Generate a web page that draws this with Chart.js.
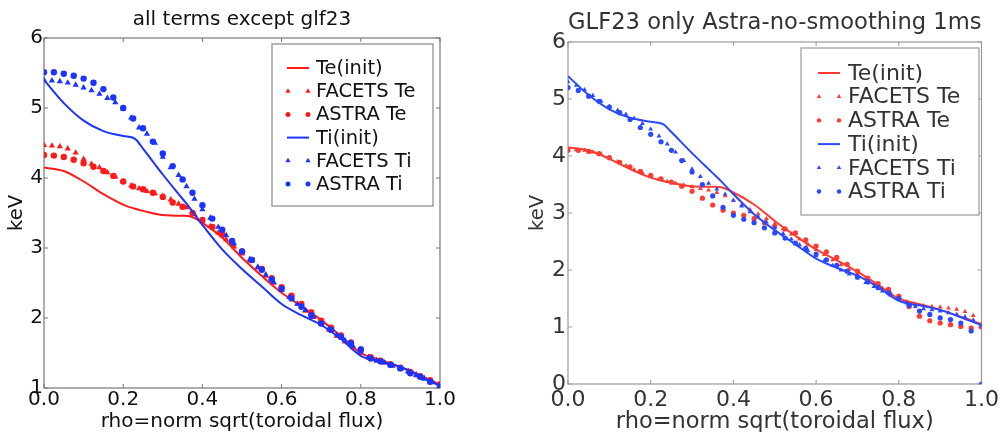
<!DOCTYPE html>
<html>
<head>
<meta charset="utf-8">
<script src="https://cdn.jsdelivr.net/npm/chart.js@4.4.0/dist/chart.umd.min.js"></script>
<style>
  html, body { margin: 0; padding: 0; background: #fff; }
  #wrap { position: relative; width: 1004px; height: 432px; overflow: hidden; }
  canvas { position: absolute; top: 0; }
  #left { left: 0; filter: blur(0.3px); }
  #right { left: 500px; filter: blur(0.6px); }
</style>
</head>
<body>
<div id="wrap">
  <canvas id="left" width="500" height="432"></canvas>
  <canvas id="right" width="504" height="432"></canvas>
</div>
<script>
// -----------------------
// データ (rho 格子と各プロファイル, keV)
// -----------------------
const rhoInit = [0, 0.05, 0.1, 0.15, 0.2, 0.23, 0.25, 0.3, 0.35, 0.37, 0.4, 0.45, 0.5,
    0.55, 0.6, 0.65, 0.7, 0.75, 0.8, 0.85, 0.9, 0.95, 1.0];
const rhoFacets = [0, 0.02, 0.04, 0.06, 0.08, 0.1, 0.12, 0.14, 0.16, 0.18, 0.2, 0.22, 0.24,
    0.26, 0.28, 0.3, 0.32, 0.34, 0.36, 0.38, 0.4, 0.42, 0.44, 0.46, 0.48, 0.5, 0.52, 0.54,
    0.56, 0.58, 0.6, 0.62, 0.64, 0.66, 0.68, 0.7, 0.72, 0.74, 0.76, 0.78, 0.8, 0.82, 0.84,
    0.86, 0.88, 0.9, 0.92, 0.94, 0.96, 0.98, 1.0];
const rhoAstra = [0, 0.025, 0.05, 0.075, 0.1, 0.125, 0.15, 0.175, 0.2, 0.225, 0.25, 0.275,
    0.3, 0.325, 0.35, 0.375, 0.4, 0.425, 0.45, 0.475, 0.5, 0.525, 0.55, 0.575, 0.6, 0.625,
    0.65, 0.675, 0.7, 0.725, 0.75, 0.775, 0.8, 0.825, 0.85, 0.875, 0.9, 0.925, 0.95, 0.975, 1.0];

// 初期プロファイル (両パネル共通)
const teInit = [4.15, 4.1, 3.95, 3.77, 3.62, 3.56, 3.53, 3.47, 3.46, 3.45, 3.36, 3.15, 2.86,
    2.6, 2.36, 2.17, 1.97, 1.74, 1.5, 1.4, 1.3, 1.18, 1.05];
const tiInit = [5.4, 5.07, 4.82, 4.67, 4.6, 4.56, 4.42, 4.05, 3.7, 3.56, 3.33, 2.98, 2.7,
    2.45, 2.2, 2.04, 1.9, 1.7, 1.46, 1.38, 1.3, 1.17, 1.03];

// 左: all terms except glf23
const facetsTeL = [4.47, 4.46, 4.45, 4.42, 4.36, 4.27, 4.2, 4.15, 4.08, 4.02, 3.95, 3.89, 3.85,
    3.81, 3.78, 3.74, 3.69, 3.63, 3.58, 3.48, 3.38, 3.31, 3.22, 3.12, 3.02, 2.92, 2.82, 2.72,
    2.6, 2.5, 2.4, 2.3, 2.2, 2.1, 2.01, 1.92, 1.83, 1.74, 1.66, 1.58, 1.5, 1.43, 1.39,
    1.36, 1.32, 1.28, 1.24, 1.19, 1.14, 1.09, 1.04];
const astraTeL = [4.33, 4.32, 4.3, 4.26, 4.21, 4.16, 4.1, 4.03, 3.95, 3.88, 3.84, 3.79,
    3.73, 3.65, 3.59, 3.5, 3.4, 3.3, 3.19, 3.07, 2.95, 2.83, 2.7, 2.57, 2.44, 2.32,
    2.2, 2.08, 1.96, 1.86, 1.75, 1.65, 1.55, 1.44, 1.39, 1.34, 1.29, 1.23, 1.17, 1.11, 1.05];
const facetsTiL = [5.4, 5.39, 5.38, 5.36, 5.33, 5.29, 5.25, 5.2, 5.14, 5.08, 4.99, 4.86, 4.72,
    4.63, 4.5, 4.3, 4.15, 4.04, 3.88, 3.7, 3.55, 3.43, 3.3, 3.18, 3.06, 2.94, 2.84, 2.73,
    2.62, 2.51, 2.4, 2.3, 2.2, 2.11, 2.02, 1.93, 1.85, 1.76, 1.68, 1.6, 1.52, 1.44, 1.39,
    1.36, 1.32, 1.28, 1.23, 1.18, 1.13, 1.08, 1.03];
const astraTiL = [5.51, 5.51, 5.49, 5.46, 5.42, 5.36, 5.27, 5.15, 5.0, 4.85, 4.71, 4.52,
    4.35, 4.17, 3.98, 3.79, 3.61, 3.42, 3.26, 3.1, 2.95, 2.83, 2.69, 2.55, 2.42, 2.28,
    2.16, 2.04, 1.92, 1.83, 1.73, 1.64, 1.55, 1.42, 1.38, 1.33, 1.28, 1.21, 1.16, 1.09, 1.03];

// 右: GLF23 only Astra-no-smoothing 1ms
const facetsTeR = [4.12, 4.11, 4.1, 4.07, 4.03, 3.97, 3.9, 3.83, 3.76, 3.7, 3.64, 3.59, 3.55,
    3.52, 3.49, 3.46, 3.43, 3.4, 3.36, 3.3, 3.22, 3.14, 3.06, 2.98, 2.9, 2.81, 2.72, 2.63,
    2.54, 2.45, 2.36, 2.27, 2.18, 2.09, 2.01, 1.93, 1.85, 1.76, 1.68, 1.6, 1.51, 1.44, 1.39,
    1.37, 1.36, 1.35, 1.33, 1.31, 1.27, 1.2, 1.05];
const astraTeR = [4.1, 4.1, 4.08, 4.04, 3.97, 3.89, 3.81, 3.73, 3.66, 3.6, 3.54, 3.47,
    3.38, 3.26, 3.14, 3.05, 3.0, 2.96, 2.9, 2.83, 2.77, 2.72, 2.65, 2.53, 2.42, 2.32,
    2.22, 2.1, 1.98, 1.86, 1.76, 1.66, 1.54, 1.36, 1.19, 1.11, 1.07, 1.04, 1.01, 0.98, 1.0];
const facetsTiR = [5.3, 5.24, 5.16, 5.06, 4.96, 4.87, 4.8, 4.73, 4.66, 4.57, 4.47, 4.35, 4.21,
    4.07, 3.92, 3.77, 3.64, 3.52, 3.42, 3.33, 3.22, 3.12, 3.02, 2.93, 2.84, 2.74, 2.64, 2.54,
    2.44, 2.34, 2.25, 2.16, 2.08, 2.0, 1.93, 1.86, 1.78, 1.71, 1.63, 1.56, 1.49, 1.42, 1.36,
    1.32, 1.3, 1.28, 1.25, 1.22, 1.18, 1.12, 1.02];
const astraTiR = [5.2, 5.15, 5.05, 4.96, 4.86, 4.76, 4.64, 4.5, 4.38, 4.25, 4.1, 3.92,
    3.72, 3.5, 3.3, 3.1, 2.96, 2.89, 2.83, 2.74, 2.65, 2.56, 2.47, 2.38, 2.28, 2.18,
    2.08, 1.98, 1.88, 1.79, 1.69, 1.6, 1.5, 1.38, 1.28, 1.22, 1.16, 1.13, 1.07, 0.93, 0.0];

const xTicks = [0, 0.2, 0.4, 0.6, 0.8, 1.0];
const yTicksL = [1, 2, 3, 4, 5, 6];
const yTicksR = [0, 1, 2, 3, 4, 5, 6];
const seriesLabels = ["Te(init)", "FACETS Te", "ASTRA Te", "Ti(init)", "FACETS Ti", "ASTRA Ti"];

const FONT = "DejaVu Sans";

function pts(xs, ys) {
    return xs.map((x, i) => ({ x: x, y: ys[i] }));
}

// 実線 / マーカーのデータセット
function buildDatasets(series, red, blue, rTri, rDot) {
    const line = (label, data, color) => ({
        label, data, showLine: true, borderColor: color, backgroundColor: color,
        borderWidth: 2, pointRadius: 0, cubicInterpolationMode: "monotone"
    });
    const mark = (label, data, color, style, r) => ({
        label, data, showLine: false, pointStyle: style, pointRadius: r,
        pointBackgroundColor: color, pointBorderColor: color, pointBorderWidth: 0
    });
    const ds = [
        line(seriesLabels[0], pts(rhoInit, series.teInit), red),
        mark(seriesLabels[1], pts(rhoFacets, series.facetsTe), red, "triangle", rTri),
        mark(seriesLabels[2], pts(rhoAstra, series.astraTe), red, "circle", rDot),
        line(seriesLabels[3], pts(rhoInit, series.tiInit), blue),
        mark(seriesLabels[4], pts(rhoFacets, series.facetsTi), blue, "triangle", rTri),
        mark(seriesLabels[5], pts(rhoAstra, series.astraTi), blue, "circle", rDot)
    ];
    // matplotlib と同じく後の系列を上に描く
    ds.forEach((d, i) => { d.order = -i; });
    return ds;
}

// 枠線と内向きの目盛り
const framePlugin = {
    id: "frame",
    beforeDatasetsDraw(chart, args, o) {
        const { ctx, chartArea: a, scales } = chart;
        ctx.save();
        ctx.strokeStyle = o.color;
        ctx.lineWidth = 1.2;
        ctx.strokeRect(a.left, a.top, a.right - a.left, a.bottom - a.top);
        ctx.lineWidth = 1;
        ctx.beginPath();
        scales.x.ticks.forEach(t => {
            const px = scales.x.getPixelForValue(t.value);
            ctx.moveTo(px, a.bottom); ctx.lineTo(px, a.bottom - 4);
            ctx.moveTo(px, a.top); ctx.lineTo(px, a.top + 4);
        });
        scales.y.ticks.forEach(t => {
            const py = scales.y.getPixelForValue(t.value);
            ctx.moveTo(a.left, py); ctx.lineTo(a.left + 4, py);
            ctx.moveTo(a.right, py); ctx.lineTo(a.right - 4, py);
        });
        ctx.stroke();
        ctx.restore();
    }
};

function drawMarker(ctx, style, x, y, r) {
    ctx.beginPath();
    if (style === "triangle") {
        ctx.moveTo(x, y - r);
        ctx.lineTo(x + 0.866 * r, y + 0.5 * r);
        ctx.lineTo(x - 0.866 * r, y + 0.5 * r);
        ctx.closePath();
    } else {
        ctx.arc(x, y, r, 0, Math.PI * 2);
    }
    ctx.fill();
}

// 枠付き凡例 (マーカーは2個並べる)
const legendPlugin = {
    id: "boxLegend",
    afterDraw(chart, args, o) {
        const ctx = chart.ctx;
        const [x0, y0, x1, y1] = o.box;
        ctx.save();
        ctx.fillStyle = "#fff";
        ctx.fillRect(x0, y0, x1 - x0, y1 - y0);
        ctx.strokeStyle = o.border;
        ctx.lineWidth = 1.2;
        ctx.strokeRect(x0, y0, x1 - x0, y1 - y0);
        ctx.font = o.size + "px '" + FONT + "'";
        ctx.textBaseline = "middle";
        ctx.textAlign = "left";
        chart.data.datasets.forEach((ds, i) => {
            const y = o.top + i * o.step;
            const hy = y - 1;
            if (ds.showLine) {
                ctx.strokeStyle = ds.borderColor;
                ctx.lineWidth = 2;
                ctx.beginPath();
                ctx.moveTo(o.h0, hy); ctx.lineTo(o.h1, hy);
                ctx.stroke();
            } else {
                const r = ds.pointStyle === "triangle" ? o.rTri : o.rDot;
                ctx.fillStyle = ds.pointBackgroundColor;
                drawMarker(ctx, ds.pointStyle, o.h0 + 1, hy, r);
                drawMarker(ctx, ds.pointStyle, o.h1 - 1, hy, r);
            }
            ctx.fillStyle = o.textColor;
            ctx.fillText(ds.label, o.textX, y);
        });
        ctx.restore();
    }
};

function makeChart(id, c) {
    return new Chart(document.getElementById(id), {
        type: "scatter",
        data: { datasets: c.datasets },
        options: {
            responsive: false,
            animation: false,
            layout: { padding: c.padding },
            plugins: {
                legend: { display: false },
                tooltip: { enabled: false },
                title: {
                    display: true, text: c.title, fullSize: false, color: c.textColor,
                    font: { family: FONT, size: c.titleSize, weight: "normal", lineHeight: 1.2 },
                    padding: c.titlePad
                },
                frame: { color: c.frameColor },
                boxLegend: c.legend
            },
            scales: {
                x: {
                    type: "linear", min: 0, max: 1,
                    afterFit: s => { s.height = c.xH; },
                    afterBuildTicks: s => { s.ticks = xTicks.map(v => ({ value: v })); },
                    grid: { display: false, drawTicks: false },
                    border: { display: false },
                    ticks: {
                        autoSkip: false, maxRotation: 0, color: c.textColor, padding: c.xTickPad,
                        font: { family: FONT, size: c.tickSize, lineHeight: 1 },
                        callback: v => Number(v).toFixed(1)
                    },
                    title: {
                        display: true, text: "rho=norm sqrt(toroidal flux)", color: c.textColor,
                        font: { family: FONT, size: c.xTitleSize, lineHeight: 1 },
                        padding: { top: 0, bottom: c.xTitlePad }
                    }
                },
                y: {
                    type: "linear", min: c.yTicks[0], max: c.yTicks[c.yTicks.length - 1],
                    afterFit: s => { s.width = c.yW; },
                    afterBuildTicks: s => { s.ticks = c.yTicks.map(v => ({ value: v })); },
                    grid: { display: false, drawTicks: false },
                    border: { display: false },
                    ticks: {
                        autoSkip: false, color: c.textColor, padding: c.yTickPad,
                        font: { family: FONT, size: c.tickSize, lineHeight: 1 },
                        callback: v => String(v)
                    },
                    title: {
                        display: true, text: "keV", color: c.textColor,
                        font: { family: FONT, size: c.yTitleSize, lineHeight: 1 },
                        padding: { top: c.yTitlePad, bottom: 0 }
                    }
                }
            }
        },
        plugins: [framePlugin, legendPlugin]
    });
}

// 左パネル
makeChart("left", {
    datasets: buildDatasets({
        teInit: teInit, facetsTe: facetsTeL, astraTe: astraTeL,
        tiInit: tiInit, facetsTi: facetsTiL, astraTi: astraTiL
    }, "#ff1a1a", "#1a33ff", 3.6, 3.2),
    title: "all terms except glf23",
    textColor: "#111", frameColor: "#777",
    padding: { left: 0, right: 60, top: 0, bottom: 0 },
    titleSize: 20, titlePad: { top: 8, bottom: 6 },
    tickSize: 20, xTickPad: 2, yTickPad: 1,
    xTitleSize: 20, xTitlePad: 0,
    yTitleSize: 19.5, yTitlePad: 7,
    xH: 44, yW: 44, yTicks: yTicksL,
    legend: {
        box: [272, 44, 433, 206], border: "#888", size: 19.5, textColor: "#111",
        top: 69, step: 23.2, h0: 287, h1: 309, textX: 316, rTri: 3, rDot: 2.5
    }
});

// 右パネル
makeChart("right", {
    datasets: buildDatasets({
        teInit: teInit, facetsTe: facetsTeR, astraTe: astraTeR,
        tiInit: tiInit, facetsTi: facetsTiR, astraTi: astraTiR
    }, "#ff3a30", "#2a48ff", 2.8, 2.6),
    title: "GLF23 only Astra-no-smoothing 1ms",
    textColor: "#333", frameColor: "#999",
    padding: { left: 0, right: 18, top: 0, bottom: 0 },
    titleSize: 23, titlePad: { top: 9, bottom: 5.4 },
    tickSize: 22, xTickPad: 5, yTickPad: 2,
    xTitleSize: 22.5, xTitlePad: -1.5,
    yTitleSize: 19.5, yTitlePad: 28,
    xH: 48, yW: 68, yTicks: yTicksR,
    legend: {
        box: [301, 48, 479, 215], border: "#999", size: 22, textColor: "#333",
        top: 74, step: 23.7, h0: 318, h1: 340, textX: 348, rTri: 2.6, rDot: 2.2
    }
});
</script>
</body>
</html>
